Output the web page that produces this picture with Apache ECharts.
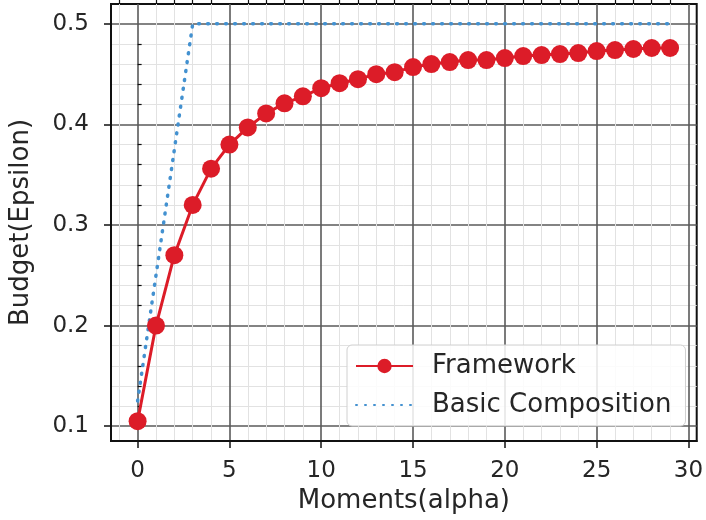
<!DOCTYPE html>
<html>
<head>
<meta charset="utf-8">
<title>Budget vs Moments</title>
<script src="https://cdn.jsdelivr.net/npm/echarts@6/dist/echarts.min.js"></script>
<style>
  html, body { margin: 0; padding: 0; background: #fff; }
  #chart { width: 706px; height: 520px; }
</style>
</head>
<body>
<div id="chart"></div>
<script>
// Moments (alpha) on the x axis
const moments = [0, 1, 2, 3, 4, 5, 6, 7, 8, 9, 10, 11, 12, 13, 14, 15, 16, 17, 18, 19, 20, 21, 22, 23, 24, 25, 26, 27, 28, 29];

// Privacy budget under the framework's accounting
const framework = [0.105, 0.200, 0.270, 0.320, 0.356, 0.380, 0.397, 0.411, 0.421, 0.428,
                   0.436, 0.441, 0.445, 0.450, 0.452, 0.457, 0.460, 0.462, 0.464, 0.464,
                   0.466, 0.468, 0.469, 0.470, 0.471, 0.473, 0.474, 0.475, 0.476, 0.476];

// Basic composition: grows linearly, then capped
const basicX = [0, 3, 29];
const basicY = [0.125, 0.5, 0.5];

// Tick positions
const xMajor = [0, 5, 10, 15, 20, 25, 30];
const xMinor = [-1, 1, 2, 3, 4, 6, 7, 8, 9, 11, 12, 13, 14, 16, 17, 18, 19, 21, 22, 23, 24, 26, 27, 28, 29];
const yMajor = [0.1, 0.2, 0.3, 0.4, 0.5];
const yMinor = [0.12, 0.14, 0.16, 0.18, 0.22, 0.24, 0.26, 0.28, 0.32, 0.34, 0.36, 0.38,
                0.42, 0.44, 0.46, 0.48];

// Axis ranges (data range plus 5% margins)
const xMin = -1.45, xMax = 30.45;
const yMin = 0.08525, yMax = 0.51975;

const FONT = 'DejaVu Sans';
const TEXT = '#262626';

function pairs(xs, ys) { return xs.map((x, i) => [x, ys[i]]); }

const chart = echarts.init(document.getElementById('chart'), null, { renderer: 'canvas' });

const baseAxis = (extra) => Object.assign({
  type: 'value',
  axisLine: { show: false },
  axisTick: { show: false },
  axisLabel: { show: false },
  splitLine: { show: false }
}, extra);

chart.setOption({
  animation: false,
  backgroundColor: '#fff',
  grid: {
    left: 105, right: 6, top: 4, bottom: 79,
    show: true, borderColor: '#111', borderWidth: 2, backgroundColor: 'transparent'
  },
  xAxis: [
    baseAxis({
      min: xMin, max: xMax,
      name: 'Moments(alpha)', nameLocation: 'middle', nameGap: 43,
      nameTextStyle: { fontFamily: FONT, fontSize: 26, color: TEXT },
      axisLine: { show: true, onZero: false, lineStyle: { color: '#111', width: 2 } },
      axisTick: { show: true, customValues: xMajor, length: 7, lineStyle: { color: '#111', width: 1.5 } },
      axisLabel: { show: true, customValues: xMajor, margin: 19, fontFamily: FONT, fontSize: 23, color: TEXT },
      splitLine: { show: true, lineStyle: { color: '#5a5a5a', width: 1.6 } }
    }),
    baseAxis({
      min: xMin, max: xMax,
      axisTick: { show: true, customValues: xMinor, length: 4, lineStyle: { color: '#111', width: 1.2 } },
      splitLine: { show: true, lineStyle: { color: '#e2e2e2', width: 1 } }
    })
  ],
  yAxis: [
    baseAxis({
      min: yMin, max: yMax,
      name: 'Budget(Epsilon)', nameLocation: 'middle', nameGap: 77,
      nameTextStyle: { fontFamily: FONT, fontSize: 26, color: TEXT },
      axisLine: { show: true, onZero: false, lineStyle: { color: '#111', width: 2 } },
      axisTick: { show: true, customValues: yMajor, length: 7, lineStyle: { color: '#111', width: 1.5 } },
      axisLabel: {
        show: true, customValues: yMajor, margin: 22, fontFamily: FONT, fontSize: 23, color: TEXT,
        formatter: (v) => v.toFixed(1)
      },
      splitLine: { show: true, lineStyle: { color: '#5a5a5a', width: 1.6 } }
    }),
    baseAxis({
      min: yMin, max: yMax,
      axisTick: { show: true, customValues: yMinor, length: 4, lineStyle: { color: '#111', width: 1.2 } },
      splitLine: { show: true, lineStyle: { color: '#e2e2e2', width: 1 } }
    })
  ],
  legend: {
    left: 347, top: 345, orient: 'vertical',
    padding: [8, 14, 8, 8],
    itemGap: 13, itemWidth: 57, itemHeight: 18,
    backgroundColor: 'rgba(255,255,255,0.85)', borderColor: '#d0d0d0', borderWidth: 1, borderRadius: 5,
    textStyle: { fontFamily: FONT, fontSize: 26, color: TEXT, padding: [0, 0, 0, 14] },
    data: [
      { name: 'Framework' },
      { name: 'Basic Composition', itemStyle: { opacity: 0 } }
    ]
  },
  series: [
    {
      name: 'Basic Composition', type: 'line',
      data: pairs(basicX, basicY), symbol: 'none', z: 3,
      lineStyle: { color: '#4391d0', width: 3.5, type: [1, 8], cap: 'round' },
      itemStyle: { color: '#4391d0' }
    },
    {
      name: 'Framework', type: 'line',
      data: pairs(moments, framework), z: 4,
      symbol: 'circle', symbolSize: 18,
      lineStyle: { color: '#dc1c28', width: 3 },
      itemStyle: { color: '#dc1c28' }
    }
  ]
});
</script>
</body>
</html>
